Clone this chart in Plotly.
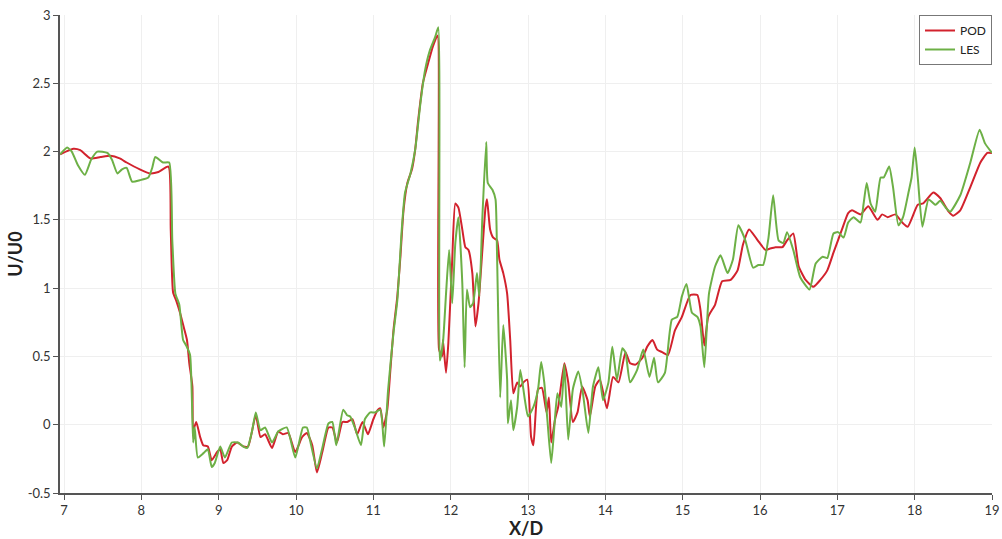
import plotly.graph_objects as go

# POD reconstruction of the streamwise velocity along the centre line
pod_x = [6.95, 7.12, 7.21, 7.34, 7.47, 7.60, 7.72, 7.81, 7.98, 8.11, 8.22, 8.35, 8.38, 8.41, 8.45,
         8.50, 8.55, 8.59, 8.62, 8.66, 8.67, 8.71, 8.76, 8.80, 8.86, 8.91, 8.98, 9.02, 9.06, 9.11,
         9.17, 9.24, 9.32, 9.38, 9.48, 9.54, 9.60, 9.69, 9.77, 9.83, 9.90, 9.99, 10.08, 10.14, 10.21,
         10.27, 10.34, 10.42, 10.47, 10.53, 10.60, 10.66, 10.73, 10.79, 10.86, 10.93, 11.00, 11.06,
         11.09, 11.13, 11.18, 11.22, 11.26, 11.31, 11.35, 11.39, 11.44, 11.50, 11.54, 11.58, 11.64,
         11.71, 11.77, 11.83, 11.85, 11.89, 11.90, 11.94, 11.97, 12.02, 12.06, 12.10, 12.15, 12.19,
         12.23, 12.28, 12.32, 12.36, 12.41, 12.45, 12.47, 12.51, 12.55, 12.60, 12.63, 12.68, 12.73,
         12.77, 12.81, 12.86, 12.90, 12.94, 12.99, 13.04, 13.07, 13.13, 13.18, 13.24, 13.27, 13.30,
         13.35, 13.39, 13.47, 13.52, 13.58, 13.64, 13.70, 13.77, 13.80, 13.87, 13.93, 14.02, 14.10,
         14.17, 14.26, 14.32, 14.39, 14.48, 14.54, 14.61, 14.67, 14.74, 14.81, 14.90, 14.99, 15.10,
         15.19, 15.23, 15.28, 15.33, 15.42, 15.51, 15.62, 15.71, 15.78, 15.86, 15.97, 16.07, 16.13,
         16.20, 16.29, 16.35, 16.43, 16.50, 16.59, 16.69, 16.78, 16.87, 16.95, 17.06, 17.14, 17.19,
         17.30, 17.40, 17.52, 17.58, 17.65, 17.75, 17.84, 17.91, 18.04, 18.11, 18.24, 18.33, 18.44,
         18.50, 18.59, 18.72, 18.85, 18.94, 19.00]
pod_u = [1.98, 2.02, 2.01, 1.95, 1.96, 1.97, 1.95, 1.92, 1.87, 1.84, 1.85, 1.89, 1.43, 0.97, 0.91,
         0.82, 0.71, 0.62, 0.45, 0.28, -0.04, 0.02, -0.09, -0.15, -0.16, -0.26, -0.20, -0.18, -0.28, -0.26,
         -0.16, -0.13, -0.16, -0.16, 0.07, -0.09, -0.07, -0.17, -0.05, -0.07, -0.06, -0.20, -0.09, -0.06, -0.15,
         -0.35, -0.20, -0.02, -0.02, -0.13, 0.02, 0.02, 0.04, -0.07, 0.02, -0.07, 0.04, 0.11,
         0.12, -0.02, 0.11, 0.40, 0.69, 0.94, 1.23, 1.57, 1.77, 1.87, 2.01, 2.23, 2.50,
         2.65, 2.77, 2.85, 0.55, 0.50, 0.62, 0.38, 0.60, 1.21, 1.62, 1.59, 1.43, 1.30,
         1.28, 1.11, 0.72, 0.89, 1.28, 1.59, 1.65, 1.43, 1.37, 1.35, 1.21, 1.11, 0.96,
         0.62, 0.23, 0.31, 0.28, 0.31, 0.33, -0.09, -0.15, 0.26, 0.27, 0.09, 0.20, -0.13,
         0.04, 0.13, 0.45, 0.31, 0.02, 0.09, 0.28, 0.18, 0.06, 0.28, 0.33, 0.12, 0.35,
         0.31, 0.53, 0.45, 0.44, 0.49, 0.57, 0.62, 0.55, 0.53, 0.51, 0.69, 0.79, 0.95,
         0.95, 0.84, 0.58, 0.79, 0.88, 1.05, 1.06, 1.13, 1.32, 1.43, 1.35, 1.28, 1.29,
         1.30, 1.30, 1.35, 1.40, 1.16, 1.06, 1.01, 1.06, 1.13, 1.26, 1.43, 1.55, 1.57,
         1.54, 1.60, 1.50, 1.54, 1.52, 1.54, 1.48, 1.45, 1.61, 1.62, 1.70, 1.66, 1.56,
         1.53, 1.57, 1.74, 1.92, 1.99, 1.99]

# LES reference velocity along the same line
les_x = [6.95, 7.04, 7.10, 7.18, 7.27, 7.35, 7.43, 7.56, 7.62, 7.69, 7.75, 7.81, 7.88, 7.98, 8.09,
         8.14, 8.18, 8.28, 8.36, 8.40, 8.44, 8.49, 8.54, 8.58, 8.63, 8.67, 8.69, 8.73, 8.80, 8.86,
         8.91, 8.95, 9.02, 9.08, 9.17, 9.25, 9.32, 9.37, 9.43, 9.48, 9.54, 9.60, 9.69, 9.77, 9.88,
         9.99, 10.09, 10.14, 10.18, 10.27, 10.34, 10.42, 10.47, 10.52, 10.61, 10.66, 10.70, 10.76,
         10.84, 10.89, 10.96, 11.02, 11.09, 11.14, 11.19, 11.26, 11.31, 11.37, 11.41, 11.48, 11.54,
         11.61, 11.67, 11.73, 11.80, 11.84, 11.86, 11.90, 11.94, 11.98, 12.02, 12.06, 12.10, 12.15,
         12.18, 12.21, 12.25, 12.29, 12.34, 12.37, 12.41, 12.46, 12.48, 12.54, 12.58, 12.60, 12.64,
         12.68, 12.73, 12.74, 12.78, 12.81, 12.86, 12.90, 12.94, 12.96, 13.00, 13.07, 13.13, 13.17,
         13.21, 13.25, 13.30, 13.34, 13.38, 13.43, 13.47, 13.52, 13.58, 13.65, 13.71, 13.78, 13.84,
         13.91, 13.97, 14.04, 14.09, 14.15, 14.22, 14.26, 14.32, 14.41, 14.49, 14.57, 14.63, 14.68,
         14.77, 14.86, 14.93, 14.99, 15.05, 15.12, 15.19, 15.23, 15.28, 15.34, 15.42, 15.49, 15.58,
         15.65, 15.72, 15.81, 15.91, 15.98, 16.04, 16.11, 16.17, 16.24, 16.30, 16.35, 16.43, 16.52,
         16.64, 16.72, 16.81, 16.87, 16.95, 17.01, 17.08, 17.14, 17.21, 17.30, 17.34, 17.38, 17.43,
         17.49, 17.56, 17.60, 17.67, 17.72, 17.79, 17.85, 17.92, 17.96, 18.00, 18.04, 18.10, 18.18,
         18.27, 18.33, 18.40, 18.46, 18.59, 18.72, 18.84, 18.91, 19.00]
les_u = [1.98, 2.03, 2.00, 1.90, 1.83, 1.94, 2.00, 1.99, 1.94, 1.84, 1.87, 1.88, 1.78, 1.79, 1.81,
         1.88, 1.96, 1.92, 1.92, 1.35, 0.96, 0.88, 0.62, 0.58, 0.51, -0.13, -0.02, -0.24, -0.21, -0.18,
         -0.31, -0.28, -0.16, -0.24, -0.13, -0.13, -0.16, -0.17, -0.05, 0.09, -0.04, -0.02, -0.13, -0.05, -0.02,
         -0.24, -0.02, -0.02, -0.11, -0.32, -0.17, 0.01, 0.02, -0.15, 0.11, 0.07, 0.06, -0.02,
         -0.15, 0.04, 0.09, 0.09, 0.11, -0.16, 0.25, 0.67, 0.91, 1.45, 1.70, 1.84, 2.01,
         2.36, 2.60, 2.74, 2.84, 2.91, 0.47, 0.60, 0.96, 1.28, 0.89, 1.33, 1.52, 1.04,
         0.42, 0.99, 0.86, 0.89, 1.11, 0.94, 1.52, 2.07, 1.77, 1.72, 1.65, 1.23, 0.20,
         0.73, 0.33, 0.01, 0.18, -0.04, 0.13, 0.40, 0.26, 0.18, 0.06, 0.13, 0.26, 0.46,
         0.31, 0.04, -0.28, -0.02, 0.23, 0.13, 0.44, -0.11, 0.26, 0.39, 0.23, -0.06, 0.28,
         0.42, 0.18, 0.31, 0.57, 0.33, 0.56, 0.53, 0.31, 0.40, 0.55, 0.35, 0.49, 0.31,
         0.38, 0.77, 0.79, 0.94, 1.03, 0.82, 0.79, 0.72, 0.42, 0.96, 1.16, 1.24, 1.11,
         1.21, 1.46, 1.35, 1.15, 1.17, 1.17, 1.37, 1.68, 1.35, 1.33, 1.41, 1.28, 1.08,
         0.99, 1.18, 1.23, 1.22, 1.40, 1.41, 1.37, 1.48, 1.52, 1.48, 1.62, 1.77, 1.62,
         1.56, 1.81, 1.81, 1.89, 1.74, 1.46, 1.52, 1.70, 1.81, 2.03, 1.81, 1.45, 1.65,
         1.61, 1.64, 1.59, 1.56, 1.68, 1.92, 2.16, 2.06, 1.99]

x_ticks = [7, 8, 9, 10, 11, 12, 13, 14, 15, 16, 17, 18, 19]
y_ticks = [-0.5, 0, 0.5, 1, 1.5, 2, 2.5, 3]
y_tick_text = ["-0.5", "0", "0.5", "1", "1.5", "2", "2.5", "3"]

fig = go.Figure()
fig.add_trace(go.Scatter(x=pod_x, y=pod_u, mode="lines", name="POD",
                         line=dict(color="#d2222d", width=2, shape="spline", smoothing=0.5)))
fig.add_trace(go.Scatter(x=les_x, y=les_u, mode="lines", name="LES",
                         line=dict(color="#6db046", width=2, shape="spline", smoothing=0.5)))

axis_common = dict(
    showline=True, linecolor="#555555", linewidth=1.5,
    ticks="outside", ticklen=5, tickcolor="#555555", tickwidth=1,
    showgrid=True, gridcolor="#efefef", gridwidth=1,
    zeroline=False, mirror=False, automargin=False,
    tickfont=dict(family="Lato, Open Sans, sans-serif", size=13, color="#333333"),
)

fig.update_layout(
    width=1002, height=539,
    margin=dict(l=60, r=10, t=15, b=46),
    paper_bgcolor="white", plot_bgcolor="white",
    font=dict(family="Lato, Open Sans, sans-serif", color="#222222"),
    xaxis=dict(range=[6.948, 19.0], tickvals=x_ticks,
               title=dict(text="<b>X/D</b>", font=dict(size=18, color="#222222"), standoff=0),
               **axis_common),
    yaxis=dict(range=[-0.5, 3.0], tickvals=y_ticks, ticktext=y_tick_text,
               title=dict(text="<b>U/U0</b>", font=dict(size=18, color="#222222"), standoff=0),
               **axis_common),
    legend=dict(x=1.0, y=1.0, xanchor="right", yanchor="top",
                bgcolor="white", bordercolor="#777777", borderwidth=1,
                font=dict(family="Lato, Open Sans, sans-serif", size=12, color="#222222"),
                itemwidth=30, tracegroupgap=0),
    showlegend=True,
)

fig.write_html("out.html")
